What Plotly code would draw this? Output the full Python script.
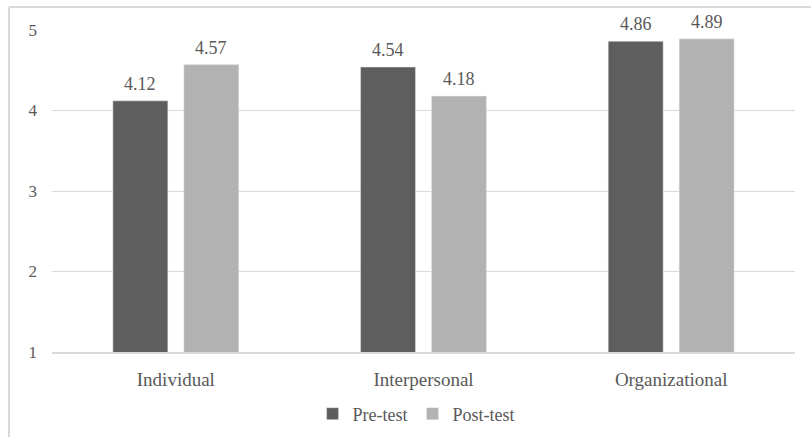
import plotly.graph_objects as go

categories = ["Individual", "Interpersonal", "Organizational"]
pre_test = [4.12, 4.54, 4.86]
post_test = [4.57, 4.18, 4.89]
y_ticks = [1, 2, 3, 4, 5]

FONT = "'Times New Roman', 'Liberation Serif', 'DejaVu Serif', serif"
TXT = "#595959"

W, H = 811, 437
L, R, T, B = 52, 16, 30, 85
pw, ph = W - L - R, H - T - B

def px2x(px):
    return (px - L) / pw

def py2y(py):
    return (H - B - py) / ph

fig = go.Figure()
fig.add_trace(go.Bar(name="Pre-test", x=categories, y=pre_test, marker_color="#5e5e5e",
                     offsetgroup="a"))
fig.add_trace(go.Bar(name="Post-test", x=categories, y=post_test, marker_color="#b2b2b2",
                     offsetgroup="b"))

annotations = []
for series, shift in ((pre_test, -35.5), (post_test, 35.5)):
    for c, v in zip(categories, series):
        annotations.append(dict(x=c, y=v, text=f"{v:.2f}", showarrow=False, xshift=shift,
                                yshift=5, yanchor="bottom",
                                font=dict(family=FONT, size=18, color=TXT)))

fig.update_layout(
    width=W, height=H,
    margin=dict(l=L, r=R, t=T, b=B, autoexpand=False),
    paper_bgcolor="white", plot_bgcolor="white",
    barmode="group", bargap=0.427, bargroupgap=0.225,
    font=dict(family=FONT, size=18, color=TXT),
    showlegend=True,
    legend=dict(orientation="h", x=0.49, xanchor="center", y=py2y(414), yanchor="middle",
                font=dict(family=FONT, size=18, color=TXT), itemwidth=30,
                traceorder="normal"),
    yaxis=dict(range=[1, 5], tickvals=y_ticks, showgrid=True, gridcolor="#d9d9d9", gridwidth=1,
               zeroline=False, showline=False, ticks="", tickfont=dict(family=FONT, size=17, color=TXT),
               ticklabelstandoff=14),
    xaxis=dict(showline=True, linecolor="#d9d9d9", linewidth=2, ticks="", ticklabelstandoff=9,
               tickfont=dict(family=FONT, size=19, color=TXT)),
    annotations=annotations,
    shapes=[
        dict(type="line", xref="paper", yref="paper", x0=px2x(9), x1=px2x(811),
             y0=py2y(7), y1=py2y(7), line=dict(color="#d9d9d9", width=2)),
        dict(type="line", xref="paper", yref="paper", x0=px2x(9), x1=px2x(9),
             y0=py2y(7), y1=py2y(437), line=dict(color="#d9d9d9", width=2)),
    ],
)

fig.write_html("out.html")
